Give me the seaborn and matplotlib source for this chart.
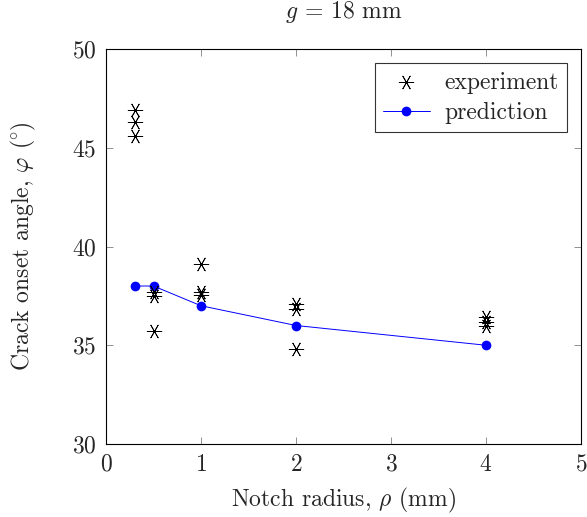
import matplotlib
matplotlib.use("Agg")
import matplotlib.pyplot as plt
import seaborn as sns
import pandas as pd

# Measured crack onset angles (several specimens per notch radius)
exp_radius = [0.3, 0.3, 0.3, 0.5, 0.5, 0.5, 1, 1, 1, 2, 2, 2, 4, 4, 4]
exp_angle = [46.9, 46.3, 45.6, 37.7, 37.5, 35.7, 39.1, 37.7, 37.55, 37.1, 36.85, 34.8, 36.45, 36.2, 36.0]

# Model prediction
pred_radius = [0.3, 0.5, 1, 2, 4]
pred_angle = [38, 38, 37, 36, 35]

x_ticks = [0, 1, 2, 3, 4, 5]
y_ticks = [30, 35, 40, 45, 50]

FS = 17

sns.set_theme(style="ticks")
plt.rcParams["font.family"] = ["cmr10", "DejaVu Serif"]
plt.rcParams["mathtext.fontset"] = "cm"
plt.rcParams["axes.formatter.use_mathtext"] = True

exp_df = pd.DataFrame({"radius": exp_radius, "angle": exp_angle})
pred_df = pd.DataFrame({"radius": pred_radius, "angle": pred_angle})

fig = plt.figure(figsize=(5.87, 5.17), dpi=100)
ax = fig.add_axes([0.1806, 0.1412, 0.8092, 0.764])

sns.lineplot(data=pred_df, x="radius", y="angle", ax=ax, color="blue",
             linewidth=0.7, marker="o", markersize=7, markeredgewidth=0,
             label="prediction", zorder=2)
sns.scatterplot(data=exp_df, x="radius", y="angle", ax=ax, color="black",
                marker=(6, 2, 90), s=110, linewidth=0.6, label="experiment",
                zorder=3)

ax.set_xlim(0, 5)
ax.set_ylim(30, 50)
ax.set_xticks(x_ticks)
ax.set_yticks(y_ticks)
ax.tick_params(direction="in", length=5, width=0.6, color="#808080",
               labelsize=FS, top=True, right=True, pad=7)
for s in ax.spines.values():
    s.set_linewidth(0.8)
    s.set_color("black")

ax.set_xlabel(r"Notch radius, $\rho$ (mm)", fontsize=FS, labelpad=7)
ax.set_ylabel(r"Crack onset angle, $\varphi$ $(\!^\circ\!)$", fontsize=FS, labelpad=24)
ax.set_title(r"$g$ = 18 mm", fontsize=FS, pad=22)

handles, labels = ax.get_legend_handles_labels()
order = [labels.index("experiment"), labels.index("prediction")]
leg = ax.legend([handles[i] for i in order], [labels[i] for i in order],
                loc="upper right", fontsize=FS, frameon=True, fancybox=False,
                edgecolor="black", borderaxespad=0.6, handlelength=2.0,
                borderpad=0.35, labelspacing=0.35, handletextpad=0.6)
leg.get_frame().set_linewidth(0.8)

fig.savefig("out.png", dpi=100)
